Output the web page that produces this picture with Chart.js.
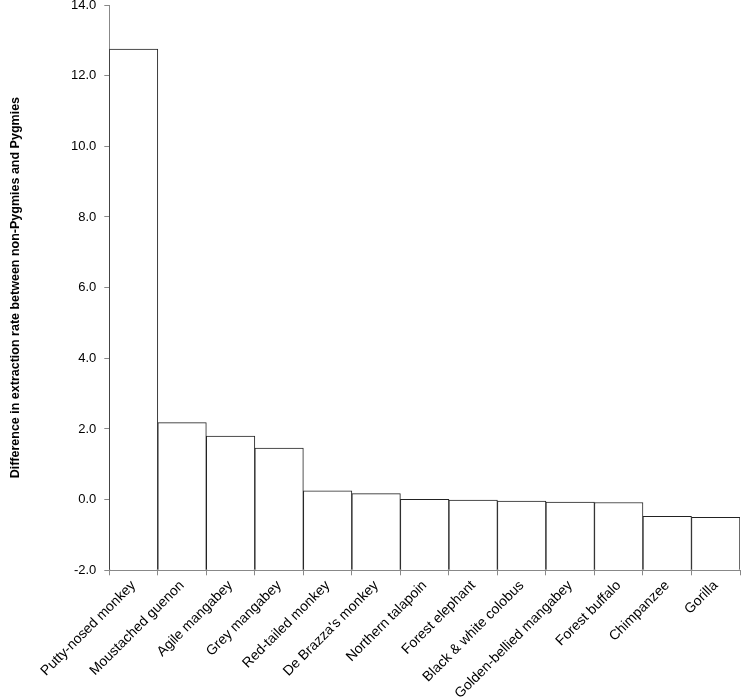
<!DOCTYPE html>
<html>
<head>
<meta charset="utf-8">
<script src="https://cdn.jsdelivr.net/npm/chart.js@4.4.1/dist/chart.umd.min.js"></script>
<style>
  html, body { margin: 0; padding: 0; background: #fff; }
  #wrap { width: 741px; height: 697px; }
</style>
</head>
<body>
<div id="wrap"><canvas id="chart"></canvas></div>
<script>
// Species and differences in extraction rate
const species = [
  'Putty-nosed monkey', 'Moustached guenon', 'Agile mangabey', 'Grey mangabey',
  'Red-tailed monkey', "De Brazza's monkey", 'Northern talapoin', 'Forest elephant',
  'Black & white colobus', 'Golden-bellied mangabey', 'Forest buffalo', 'Chimpanzee', 'Gorilla'
];
const difference = [12.75, 2.18, 1.80, 1.46, 0.25, 0.17, 0.01, -0.01, -0.04, -0.07, -0.08, -0.47, -0.50];
const yTicks = [-2, 0, 2, 4, 6, 8, 10, 12, 14];

const ctx = document.getElementById('chart').getContext('2d');
new Chart(ctx, {
  type: 'bar',
  data: {
    labels: species,
    datasets: [{
      data: difference,
      base: yTicks[0],
      backgroundColor: '#ffffff',
      borderColor: '#222222',
      borderWidth: 1,
      categoryPercentage: 1.0,
      barPercentage: 1.0
    }]
  },
  options: {
    responsive: true,
    maintainAspectRatio: false,
    animation: false,
    layout: { padding: { top: 0, right: 1, left: 4, bottom: -7 } },
    plugins: {
      legend: { display: false },
      tooltip: { enabled: false }
    },
    scales: {
      x: {
        grid: { display: true, drawOnChartArea: false, tickLength: 5, color: '#888' },
        border: { color: '#888' },
        ticks: {
          minRotation: 45,
          maxRotation: 45,
          padding: 2,
          color: '#000',
          font: { family: 'Liberation Sans', size: 14 }
        }
      },
      y: {
        min: yTicks[0],
        max: yTicks[yTicks.length - 1],
        afterBuildTicks: axis => { axis.ticks = yTicks.map(v => ({ value: v })); },
        // keep the 14.0 tick close to the top edge
        afterFit: axis => { axis.paddingTop = 5; },
        grid: { display: true, drawOnChartArea: false, tickLength: 5, color: '#888' },
        border: { color: '#888' },
        ticks: {
          padding: 8,
          color: '#000',
          font: { family: 'Liberation Sans', size: 13, lineHeight: 1 },
          callback: v => v.toFixed(1)
        },
        title: {
          display: true,
          text: 'Difference in extraction rate between non-Pygmies and Pygmies',
          color: '#000',
          padding: { top: 4, bottom: 40 },
          font: { family: 'Liberation Sans', size: 12.5, weight: 'bold' }
        }
      }
    }
  }
});
</script>
</body>
</html>
